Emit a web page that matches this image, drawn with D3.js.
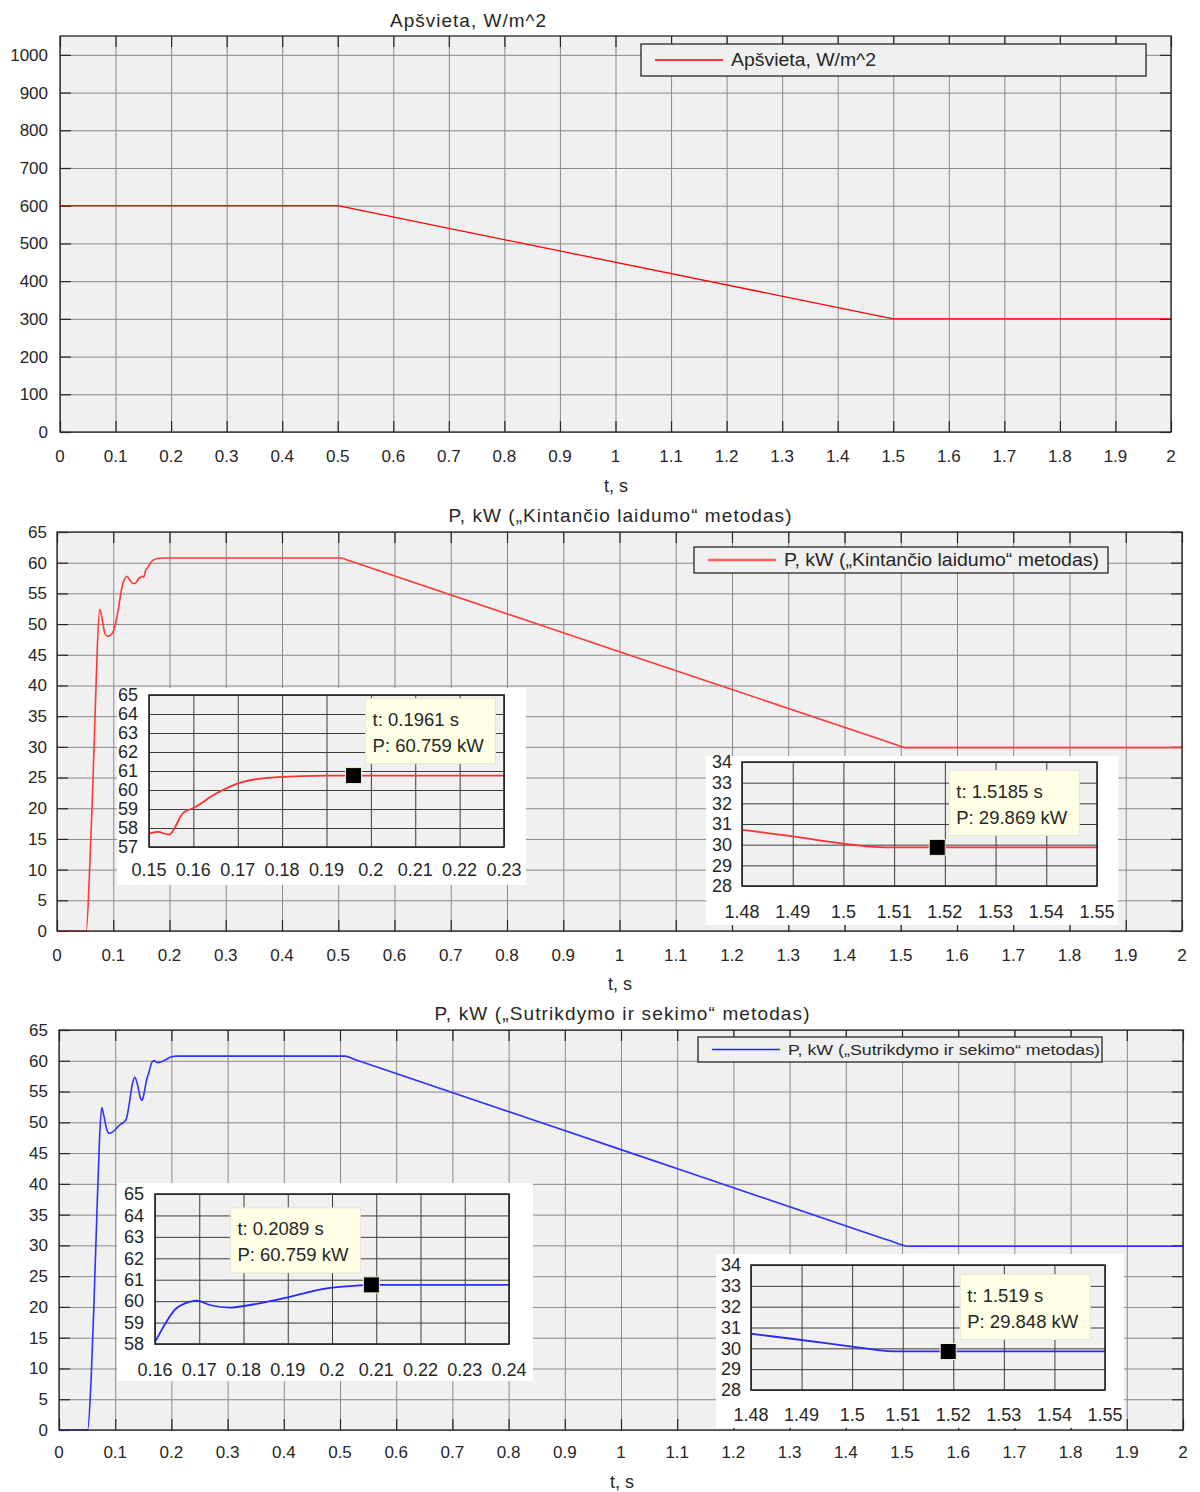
<!DOCTYPE html>
<html>
<head>
<meta charset="utf-8">
<script src="https://cdn.jsdelivr.net/npm/d3@7"></script>
<style>
  body { margin: 0; background: #fff; }
  text { font-family: "Liberation Sans", Arial, sans-serif; fill: #262626; }
</style>
</head>
<body>
<svg id="chart" width="1200" height="1492"></svg>
<script>
// Irradiance input
const tIrr = [0, 0.5, 1.5, 2];
const irr = [600, 600, 300, 300];

// Power, "Kintancio laidumo" method
const tKint = [0, 0.052, 0.058, 0.063, 0.068, 0.072, 0.076, 0.08, 0.085, 0.09, 0.095, 0.1, 0.105, 0.11, 0.115, 0.12,
  0.124, 0.13, 0.135, 0.14, 0.145, 0.15, 0.152, 0.1545, 0.1577, 0.16, 0.165, 0.171, 0.179, 0.19, 0.23, 0.505,
  0.52, 1.0, 1.47, 1.48, 1.49, 1.5, 1.507, 1.51, 2];
const pKint = [0, 0, 10, 22, 36, 47, 52.4, 51, 48.5, 48, 48.2, 48.8, 50.5, 53, 55.8, 57.3,
  57.8, 57.1, 56.6, 56.7, 57.4, 57.7, 57.8, 57.65, 58.8, 59.05, 59.8, 60.42, 60.68, 60.759, 60.759, 60.759,
  60.3, 45.5, 31.03, 30.72, 30.4, 30.05, 29.88, 29.869, 29.869];

// Power, "Sutrikdymo ir sekimo" method
const tSut = [0, 0.051, 0.057, 0.062, 0.067, 0.072, 0.076, 0.08, 0.085, 0.09, 0.095, 0.1, 0.105, 0.11, 0.115, 0.12,
  0.125, 0.13, 0.135, 0.14, 0.145, 0.148, 0.152, 0.156, 0.16, 0.1619, 0.1645, 0.1679, 0.1694, 0.1724, 0.177, 0.1815,
  0.186, 0.1905, 0.1988, 0.204, 0.209, 0.24, 0.509, 0.525, 1.0, 1.47, 1.48, 1.49, 1.5, 1.507, 1.51, 2];
const pSut = [0, 0, 8, 20, 34, 47, 52.4, 51, 48.8, 48.2, 48.4, 48.8, 49.3, 49.7, 50, 50.6,
  53, 56, 57.3, 56, 53.9, 53.6, 55, 57, 58.1, 58.8, 59.6, 59.97, 60.02, 59.82, 59.7, 59.82,
  60.0, 60.2, 60.6, 60.7, 60.759, 60.759, 60.759, 60.26, 45.56, 31.01, 30.7, 30.4, 30.08, 29.87, 29.85, 29.848];

// Tick values
const xTicksMain = [0, 0.1, 0.2, 0.3, 0.4, 0.5, 0.6, 0.7, 0.8, 0.9, 1, 1.1, 1.2, 1.3, 1.4, 1.5, 1.6, 1.7, 1.8, 1.9, 2];
const yTicksIrr = [0, 100, 200, 300, 400, 500, 600, 700, 800, 900, 1000];
const yTicksP = [0, 5, 10, 15, 20, 25, 30, 35, 40, 45, 50, 55, 60, 65];
const xTicksStartK = [0.15, 0.16, 0.17, 0.18, 0.19, 0.2, 0.21, 0.22, 0.23];
const yTicksStartK = [57, 58, 59, 60, 61, 62, 63, 64, 65];
const xTicksStartS = [0.16, 0.17, 0.18, 0.19, 0.2, 0.21, 0.22, 0.23, 0.24];
const yTicksStartS = [58, 59, 60, 61, 62, 63, 64, 65];
const xTicksEnd = [1.48, 1.49, 1.5, 1.51, 1.52, 1.53, 1.54, 1.55];
const yTicksEnd = [28, 29, 30, 31, 32, 33, 34];

// Data tips (t, P)
const tipKintStart = { t: 0.1961, p: 60.759, lines: ['t: 0.1961 s', 'P: 60.759 kW'] };
const tipKintEnd = { t: 1.5185, p: 29.869, lines: ['t: 1.5185 s', 'P: 29.869 kW'] };
const tipSutStart = { t: 0.2089, p: 60.759, lines: ['t: 0.2089 s', 'P: 60.759 kW'] };
const tipSutEnd = { t: 1.519, p: 29.848, lines: ['t: 1.519 s', 'P: 29.848 kW'] };

const svg = d3.select('#chart');
const fmt = v => String(+v.toFixed(3));
let clipCount = 0;

const toPoints = (ts, vs) => ts.map((t, i) => ({ t: t, v: vs[i] }));

// Draws one axes: background, grid, ticks, labels, line and box
const drawAxes = (o) => {
  const g = svg.append('g');
  const x = d3.scaleLinear().domain(o.xDom).range([o.left, o.right]);
  const y = d3.scaleLinear().domain(o.yDom).range([o.bottom, o.top]);
  const w = o.right - o.left;
  const h = o.bottom - o.top;

  if (o.paper) {
    g.append('rect')
      .attr('x', o.paper[0]).attr('y', o.paper[1])
      .attr('width', o.paper[2] - o.paper[0]).attr('height', o.paper[3] - o.paper[1])
      .attr('fill', '#fff');
  }

  g.append('rect')
    .attr('x', o.left).attr('y', o.top).attr('width', w).attr('height', h)
    .attr('fill', '#f0f0f0');

  // grid
  const gx = g.append('g').attr('transform', `translate(0,${o.bottom})`)
    .call(d3.axisBottom(x).tickValues(o.xTicks).tickSize(-h).tickFormat(''));
  const gy = g.append('g').attr('transform', `translate(${o.left},0)`)
    .call(d3.axisLeft(y).tickValues(o.yTicks).tickSize(-w).tickFormat(''));
  [gx, gy].forEach(a => {
    a.select('.domain').remove();
    a.selectAll('line').attr('stroke', o.gridColor).attr('stroke-width', 1);
  });

  // inward tick marks on all four sides
  if (o.tickLen) {
    const tl = o.tickLen;
    const ticks = [
      g.append('g').attr('transform', `translate(0,${o.bottom})`).call(d3.axisBottom(x).tickValues(o.xTicks).tickSize(-tl).tickFormat('')),
      g.append('g').attr('transform', `translate(0,${o.top})`).call(d3.axisTop(x).tickValues(o.xTicks).tickSize(-tl).tickFormat('')),
      g.append('g').attr('transform', `translate(${o.left},0)`).call(d3.axisLeft(y).tickValues(o.yTicks).tickSize(-tl).tickFormat('')),
      g.append('g').attr('transform', `translate(${o.right},0)`).call(d3.axisRight(y).tickValues(o.yTicks).tickSize(-tl).tickFormat(''))
    ];
    ticks.forEach(a => {
      a.select('.domain').remove();
      a.selectAll('line').attr('stroke', '#262626').attr('stroke-width', 1.2);
    });
  }

  // tick labels
  g.selectAll('.xl').data(o.xTicks).enter().append('text')
    .attr('x', d => x(d)).attr('y', o.xLabelY).attr('dy', '0.35em')
    .attr('text-anchor', 'middle').attr('font-size', o.fontSize)
    .text(fmt);
  g.selectAll('.yl').data(o.yTicks).enter().append('text')
    .attr('x', o.yLabelX).attr('y', d => y(d)).attr('dy', '0.35em')
    .attr('text-anchor', 'end').attr('font-size', o.fontSize)
    .text(fmt);

  // data line
  const id = 'clip' + (clipCount++);
  g.append('clipPath').attr('id', id).append('rect')
    .attr('x', o.left).attr('y', o.top - 2).attr('width', w).attr('height', h + 4);
  const line = d3.line().x(d => x(d.t)).y(d => y(d.v)).curve(o.curve || d3.curveLinear);
  g.append('path').datum(o.points)
    .attr('clip-path', `url(#${id})`)
    .attr('d', line)
    .attr('fill', 'none')
    .attr('stroke', o.color)
    .attr('stroke-width', o.lineWidth)
    .attr('stroke-linejoin', 'round');

  // box
  g.append('rect')
    .attr('x', o.left).attr('y', o.top).attr('width', w).attr('height', h)
    .attr('fill', 'none').attr('stroke', '#262626').attr('stroke-width', o.boxWidth || 1.3);

  // data tip
  if (o.tip) {
    const mx = x(o.tip.t);
    const my = y(o.tip.p);
    const bw = 130, bh = 65;
    const bx = o.tipSide === 'left' ? mx - 141 : mx + 12;
    const by = my - 12 - bh;
    g.append('rect')
      .attr('x', bx).attr('y', by).attr('width', bw).attr('height', bh)
      .attr('fill', '#ffffe6').attr('stroke', '#e6e6d2').attr('stroke-width', 1);
    g.selectAll('.tip').data(o.tip.lines).enter().append('text')
      .attr('x', bx + 7).attr('y', (d, i) => by + 21 + i * 26).attr('dy', '0.35em')
      .attr('font-size', 18.5)
      .text(d => d);
    g.append('rect')
      .attr('x', mx - 8).attr('y', my - 8).attr('width', 16).attr('height', 16)
      .attr('fill', '#000').attr('stroke', '#f4f0c0').attr('stroke-width', 1);
  }
  return g;
};

// Title, x label, legend for a main panel
const decorate = (o) => {
  svg.append('text').attr('x', o.titleX).attr('y', o.titleY).attr('dy', '0.35em')
    .attr('text-anchor', 'middle').attr('font-size', 19)
    .attr('textLength', o.titleLen).attr('lengthAdjust', 'spacing')
    .text(o.title);
  svg.append('text').attr('x', o.xTitleX).attr('y', o.xTitleY).attr('dy', '0.35em')
    .attr('text-anchor', 'middle').attr('font-size', 18).text('t, s');
  const L = o.legend;
  svg.append('rect').attr('x', L.x).attr('y', L.y).attr('width', L.w).attr('height', L.h)
    .attr('fill', '#f0f0f0').attr('stroke', '#262626').attr('stroke-width', 1.3);
  svg.append('line')
    .attr('x1', L.x + 14).attr('x2', L.x + 82)
    .attr('y1', L.y + L.h / 2).attr('y2', L.y + L.h / 2)
    .attr('stroke', o.color).attr('stroke-width', L.lw);
  svg.append('text').attr('x', L.x + 90).attr('y', L.y + L.h / 2).attr('dy', '0.35em')
    .attr('font-size', L.fs)
    .attr('textLength', L.tl).attr('lengthAdjust', 'spacingAndGlyphs')
    .text(o.title);
};

// ---- Panel 1: irradiance
drawAxes({
  left: 60, right: 1171, top: 36, bottom: 432,
  xDom: [0, 2], yDom: [0, 1050], xTicks: xTicksMain, yTicks: yTicksIrr,
  xLabelY: 456, yLabelX: 48, fontSize: 17, gridColor: '#8a8a8a', tickLen: 11,
  points: toPoints(tIrr, irr), color: '#ff0000', lineWidth: 1.3
});
decorate({
  title: 'Apšvieta, W/m^2', titleX: 468, titleY: 20, titleLen: 156, xTitleX: 616, xTitleY: 486, color: '#ff0000',
  legend: { x: 641, y: 44, w: 505, h: 32, fs: 18, lw: 1.5, tl: 145 }
});

// ---- Panel 2: Kintancio laidumo
const kintPts = toPoints(tKint, pKint);
drawAxes({
  left: 57, right: 1182, top: 532, bottom: 931,
  xDom: [0, 2], yDom: [0, 65], xTicks: xTicksMain, yTicks: yTicksP,
  xLabelY: 955, yLabelX: 47, fontSize: 17, gridColor: '#8a8a8a', tickLen: 11,
  points: kintPts, color: '#ff3838', lineWidth: 1.6, curve: d3.curveMonotoneX
});
decorate({
  title: 'P, kW („Kintančio laidumo“ metodas)', titleX: 620, titleY: 515, titleLen: 343, xTitleX: 620, xTitleY: 984,
  color: '#ff6060',
  legend: { x: 694, y: 547, w: 414, h: 26, fs: 18, lw: 2.5, tl: 315 }
});
drawAxes({
  left: 149, right: 504, top: 695, bottom: 847, paper: [117, 688, 526, 885],
  xDom: [0.15, 0.23], yDom: [57, 65], xTicks: xTicksStartK, yTicks: yTicksStartK,
  xLabelY: 870, yLabelX: 138, fontSize: 18, gridColor: '#3c3c3c', boxWidth: 1.6,
  points: kintPts, color: '#ff3030', lineWidth: 1.8, curve: d3.curveMonotoneX,
  tip: tipKintStart, tipSide: 'right'
});
drawAxes({
  left: 742, right: 1097, top: 762, bottom: 886, paper: [706, 756, 1118, 925],
  xDom: [1.48, 1.55], yDom: [28, 34], xTicks: xTicksEnd, yTicks: yTicksEnd,
  xLabelY: 912, yLabelX: 732, fontSize: 18, gridColor: '#3c3c3c', boxWidth: 1.6,
  points: kintPts, color: '#ff3030', lineWidth: 1.8, curve: d3.curveMonotoneX,
  tip: tipKintEnd, tipSide: 'right'
});

// ---- Panel 3: Sutrikdymo ir sekimo
const sutPts = toPoints(tSut, pSut);
drawAxes({
  left: 59, right: 1183, top: 1030, bottom: 1430,
  xDom: [0, 2], yDom: [0, 65], xTicks: xTicksMain, yTicks: yTicksP,
  xLabelY: 1452, yLabelX: 48, fontSize: 17, gridColor: '#8a8a8a', tickLen: 11,
  points: sutPts, color: '#3030ff', lineWidth: 1.6, curve: d3.curveMonotoneX
});
decorate({
  title: 'P, kW („Sutrikdymo ir sekimo“ metodas)', titleX: 622, titleY: 1013, titleLen: 375, xTitleX: 622, xTitleY: 1482,
  color: '#2020ff',
  legend: { x: 698, y: 1037, w: 404, h: 25, fs: 15.5, lw: 1.5, tl: 312 }
});
drawAxes({
  left: 155, right: 509, top: 1194, bottom: 1344, paper: [117, 1183, 533, 1381],
  xDom: [0.16, 0.24], yDom: [58, 65], xTicks: xTicksStartS, yTicks: yTicksStartS,
  xLabelY: 1370, yLabelX: 144, fontSize: 18, gridColor: '#3c3c3c', boxWidth: 1.6,
  points: sutPts, color: '#2828ff', lineWidth: 1.8, curve: d3.curveMonotoneX,
  tip: tipSutStart, tipSide: 'left'
});
drawAxes({
  left: 751, right: 1105, top: 1265, bottom: 1390, paper: [716, 1254, 1124, 1428],
  xDom: [1.48, 1.55], yDom: [28, 34], xTicks: xTicksEnd, yTicks: yTicksEnd,
  xLabelY: 1415, yLabelX: 741, fontSize: 18, gridColor: '#3c3c3c', boxWidth: 1.6,
  points: sutPts, color: '#2828ff', lineWidth: 1.8, curve: d3.curveMonotoneX,
  tip: tipSutEnd, tipSide: 'right'
});
</script>
</body>
</html>
